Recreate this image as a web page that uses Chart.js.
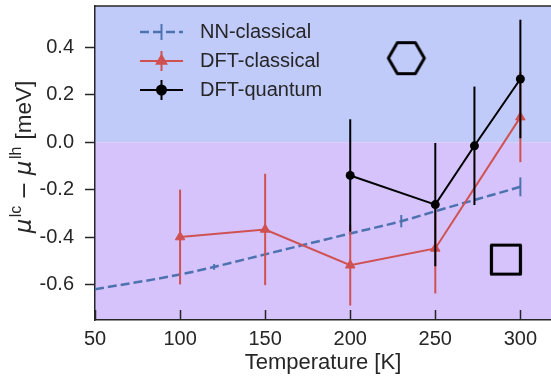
<!DOCTYPE html>
<html>
<head>
<meta charset="utf-8">
<script src="https://cdn.jsdelivr.net/npm/chart.js@4.4.1/dist/chart.umd.min.js"></script>
<style>
  html, body { margin: 0; padding: 0; background: #fff; overflow: hidden; }
</style>
</head>
<body>
<canvas id="chart" width="551" height="376"></canvas>
<script>
// ---------------- Data ----------------
const xTicks = [50, 100, 150, 200, 250, 300];
const yTicks = [-0.6, -0.4, -0.2, 0.0, 0.2, 0.4];

const seriesNames = ['NN-classical', 'DFT-classical', 'DFT-quantum'];

const nnTemps = [50, 100, 120, 150, 200, 230, 250, 300];
const nnValues = [-0.62, -0.558, -0.526, -0.473, -0.385, -0.333, -0.291, -0.188];
const nnErrors = [0, 0, 0.012, 0, 0, 0.026, 0, 0.04];

const dftcTemps = [100, 150, 200, 250, 300];
const dftcValues = [-0.40, -0.368, -0.519, -0.448, 0.106];
const dftcErrors = [0.20, 0.235, 0.17, 0.19, 0.19];

const dftqTemps = [200, 250, 273, 300];
const dftqValues = [-0.14, -0.263, -0.015, 0.267];
const dftqErrors = [0.237, 0.26, 0.25, 0.25];

// phase symbols (hexagon / square) in data coordinates
const phaseTemps = [233, 291.5];
const phaseValues = [0.355, -0.495];

const TEXT = '#262626';
const FONT = 'Liberation Sans, Arial, sans-serif';
const MATH = 'DejaVu Sans, sans-serif';
const BLUE = '#4c72b0';
const RED = '#d05152';

const toPoints = (xs, ys) => xs.map((x, i) => ({ x, y: ys[i] }));

// ---------------- Symbol images ----------------
function hexagonImage() {
  const c = document.createElement('canvas');
  c.width = 44; c.height = 40;
  const g = c.getContext('2d');
  const R = 18;
  g.strokeStyle = '#000';
  g.lineWidth = 3;
  g.lineJoin = 'round';
  g.beginPath();
  for (let k = 0; k < 6; k++) {
    const a = k * Math.PI / 3;
    const px = 22 + R * Math.cos(a), py = 20 + R * Math.sin(a);
    k ? g.lineTo(px, py) : g.moveTo(px, py);
  }
  g.closePath();
  g.stroke();
  return c;
}

function squareImage() {
  const c = document.createElement('canvas');
  c.width = 38; c.height = 38;
  const g = c.getContext('2d');
  g.strokeStyle = '#000';
  g.lineWidth = 3.2;
  g.lineJoin = 'round';
  g.strokeRect(4.5, 4.5, 29, 29);
  return c;
}

function noPadding(s) {
  s.paddingLeft = s.paddingRight = s.paddingTop = s.paddingBottom = 0;
}

// ---------------- Plugins ----------------
const background = {
  id: 'background',
  beforeDraw(chart) {
    const { ctx, chartArea: a, scales: { y } } = chart;
    const y0 = y.getPixelForValue(0);
    ctx.save();
    ctx.fillStyle = '#fff';
    ctx.fillRect(0, 0, chart.width, chart.height);
    ctx.fillStyle = '#c1cbfa';
    ctx.fillRect(a.left, a.top, a.right - a.left, y0 - a.top);
    ctx.fillStyle = '#d6c3fc';
    ctx.fillRect(a.left, y0, a.right - a.left, a.bottom - y0);
    ctx.restore();
  }
};

const errorBars = {
  id: 'errorBars',
  beforeDatasetDraw(chart, args) {
    const ds = chart.data.datasets[args.index];
    if (!ds.errors) return;
    const { ctx, chartArea: a, scales: { x, y } } = chart;
    ctx.save();
    ctx.beginPath();
    ctx.rect(a.left, a.top, a.right - a.left, a.bottom - a.top);
    ctx.clip();
    ctx.strokeStyle = ds.borderColor;
    ctx.lineWidth = 2;
    ds.data.forEach((p, i) => {
      const e = ds.errors[i];
      if (!e) return;
      const px = x.getPixelForValue(p.x);
      ctx.beginPath();
      ctx.moveTo(px, y.getPixelForValue(p.y - e));
      ctx.lineTo(px, y.getPixelForValue(p.y + e));
      ctx.stroke();
    });
    ctx.restore();
  }
};

const frame = {
  id: 'frame',
  afterDraw(chart) {
    const { ctx, chartArea: a, scales: { x } } = chart;
    ctx.save();
    ctx.strokeStyle = TEXT;
    ctx.lineWidth = 1.5;
    ctx.beginPath();
    ctx.moveTo(a.left, a.top);
    ctx.lineTo(a.right, a.top);
    // inward x ticks
    x.ticks.forEach(t => {
      const px = Math.round(x.getPixelForValue(t.value)) + 0.5;
      ctx.moveTo(px, a.bottom);
      ctx.lineTo(px, a.bottom - 10);
    });
    ctx.stroke();
    ctx.restore();
  }
};

const legendBox = {
  id: 'legendBox',
  afterDraw(chart) {
    const { ctx, chartArea: a } = chart;
    const rows = [26, 55, 84];
    const bars = [8, 10, 10];
    ctx.save();
    ctx.font = '20px ' + FONT;
    ctx.textBaseline = 'middle';
    seriesNames.forEach((name, i) => {
      const ds = chart.data.datasets[i];
      const yy = a.top + rows[i];
      const x0 = a.left + 45, x1 = a.left + 88, xm = (x0 + x1) / 2;
      ctx.strokeStyle = ds.borderColor;
      ctx.lineWidth = ds.borderWidth;
      ctx.setLineDash(ds.borderDash || []);
      ctx.beginPath();
      ctx.moveTo(x0, yy);
      ctx.lineTo(x1, yy);
      ctx.stroke();
      ctx.setLineDash([]);
      ctx.lineWidth = 2;
      ctx.beginPath();
      ctx.moveTo(xm, yy - bars[i]);
      ctx.lineTo(xm, yy + bars[i]);
      ctx.stroke();
      if (ds.pointRadius) {
        Chart.helpers.drawPoint(ctx, {
          pointStyle: ds.pointStyle, radius: ds.pointRadius,
          borderWidth: 1
        }, xm, yy);
        ctx.fillStyle = ds.borderColor;
        ctx.fill();
      }
      ctx.fillStyle = TEXT;
      ctx.fillText(name, a.left + 105, yy);
    });
    ctx.restore();
  }
};

const yTitle = {
  id: 'yTitle',
  afterDraw(chart) {
    const { ctx } = chart;
    const main = '22.5px ' + FONT;
    const mu = 'italic 23px ' + MATH;
    const minus = '22px ' + MATH;
    const sup = '16px ' + FONT;
    // [font, text, baseline shift, gap after]
    const parts = [
      [mu, '\u03BC', 0, 1.5], [sup, 'lc', -10, 6], [minus, '\u2212', 0, 6],
      [mu, '\u03BC', 0, 1.5], [sup, 'lh', -10, 1], [main, ' [meV]', 0, 0]
    ];
    let total = 0;
    parts.forEach(p => { ctx.font = p[0]; total += ctx.measureText(p[1]).width + p[3]; });
    ctx.save();
    ctx.translate(31, 157);
    ctx.rotate(-Math.PI / 2);
    ctx.fillStyle = TEXT;
    ctx.textBaseline = 'alphabetic';
    let cx = -total / 2;
    parts.forEach(p => {
      ctx.font = p[0];
      ctx.fillText(p[1], cx, p[2]);
      cx += ctx.measureText(p[1]).width + p[3];
    });
    ctx.restore();
  }
};

// ---------------- Chart ----------------
new Chart(document.getElementById('chart'), {
  type: 'line',
  data: {
    datasets: [
      {
        label: seriesNames[0],
        data: toPoints(nnTemps, nnValues),
        errors: nnErrors,
        borderColor: BLUE,
        borderWidth: 2.5,
        borderDash: [9, 4],
        pointRadius: 0,
        cubicInterpolationMode: 'monotone',
        order: 3
      },
      {
        label: seriesNames[1],
        data: toPoints(dftcTemps, dftcValues),
        errors: dftcErrors,
        borderColor: RED,
        backgroundColor: RED,
        borderWidth: 2,
        pointStyle: 'triangle',
        pointRadius: 5.5,
        pointBorderWidth: 1,
        order: 2
      },
      {
        label: seriesNames[2],
        data: toPoints(dftqTemps, dftqValues),
        errors: dftqErrors,
        borderColor: '#000',
        backgroundColor: '#000',
        borderWidth: 2,
        pointStyle: 'circle',
        pointRadius: 4.5,
        pointBorderWidth: 0,
        order: 1
      },
      {
        label: 'phase',
        data: toPoints(phaseTemps, phaseValues),
        showLine: false,
        pointStyle: [hexagonImage(), squareImage()],
        pointRadius: 18,
        order: 0
      }
    ]
  },
  options: {
    responsive: false,
    animation: false,
    devicePixelRatio: 1,
    layout: { autoPadding: false, padding: { top: 6, right: 0, left: 0, bottom: 0 } },
    plugins: { legend: { display: false }, tooltip: { enabled: false } },
    scales: {
      x: {
        type: 'linear',
        min: 50,
        max: 318,
        afterBuildTicks: s => { s.ticks = xTicks.map(v => ({ value: v })); },
        afterFit: s => { s.height = 56; noPadding(s); },
        ticks: {
          color: TEXT,
          font: { family: FONT, size: 20 },
          padding: 7,
          maxRotation: 0,
          callback: v => String(v)
        },
        grid: { display: true, drawOnChartArea: false, drawTicks: false },
        border: { display: true, color: TEXT, width: 1.5 },
        title: {
          display: true,
          text: 'Temperature [K]',
          color: TEXT,
          font: { family: FONT, size: 22 },
          padding: { top: 0, bottom: 0 }
        }
      },
      y: {
        type: 'linear',
        min: -0.75,
        max: 0.575,
        afterBuildTicks: s => { s.ticks = yTicks.map(v => ({ value: v })); },
        afterFit: s => { s.width = 95; noPadding(s); },
        ticks: {
          color: TEXT,
          font: { family: FONT, size: 20 },
          padding: 11,
          callback: v => v.toFixed(1)
        },
        grid: {
          drawOnChartArea: false,
          drawTicks: true,
          tickLength: 10,
          tickColor: TEXT,
          tickWidth: 1.5
        },
        border: { display: true, color: TEXT, width: 1.5 }
      }
    }
  },
  plugins: [background, errorBars, frame, legendBox, yTitle]
});
</script>
</body>
</html>
